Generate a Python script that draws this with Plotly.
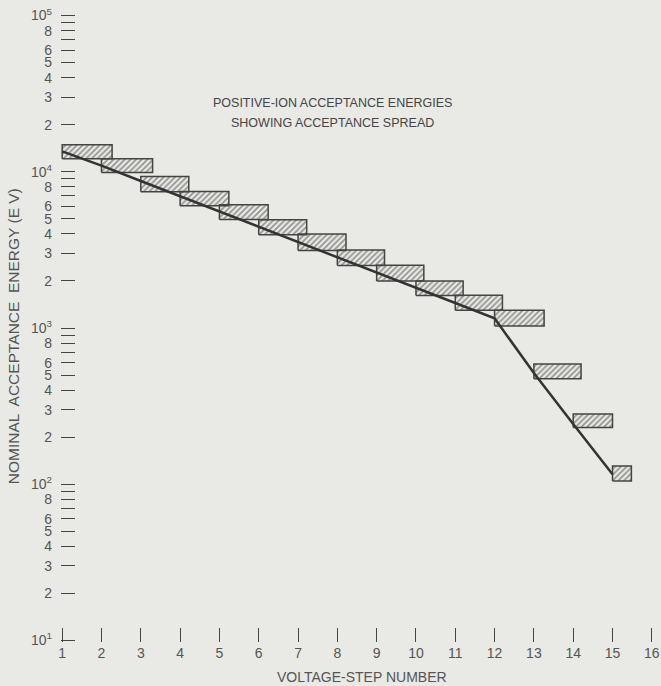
import plotly.graph_objects as go

# ---- data ----
steps = list(range(1, 16))
nominal_energy = [13500, 10940, 8730, 6980, 5570, 4450, 3550, 2840, 2265, 1805, 1445, 1153, 515, 243, 116]
spread_low = [12100, 9900, 7440, 6060, 4945, 3950, 3130, 2510, 2000, 1616, 1300, 1030, 473, 231, 105]
spread_high = [14900, 12110, 9330, 7480, 6145, 4925, 3990, 3160, 2520, 2000, 1621, 1299, 588, 281, 131]
spread_right = [2.27, 3.3, 4.22, 5.24, 6.24, 7.22, 8.22, 9.2, 10.2, 11.2, 12.2, 13.26, 14.2, 15.0, 15.48]

x_ticks = list(range(1, 17))
y_tickvals = []
y_ticktext = []
for exp in range(1, 6):
    base = 10 ** exp
    y_tickvals.append(base)
    y_ticktext.append(f"10<sup>{exp}</sup>")
    if exp < 5:
        for m, lab in zip(range(2, 10), ["2", "3", "4", "5", "6", "", "8", ""]):
            y_tickvals.append(m * base)
            y_ticktext.append(lab)

title_lines = ["POSITIVE-ION ACCEPTANCE ENERGIES", "SHOWING ACCEPTANCE SPREAD"]
x_title = "VOLTAGE-STEP NUMBER"
y_title = "NOMINAL  ACCEPTANCE  ENERGY (E V)"

BG = "#e9e9e5"
INK = "#454545"
FONT = "Liberation Sans"

fig = go.Figure()

for s, lo, hi, r in zip(steps, spread_low, spread_high, spread_right):
    fig.add_trace(go.Scatter(
        x=[s, r, r, s, s], y=[lo, lo, hi, hi, lo],
        mode="lines", fill="toself",
        fillcolor="rgba(0,0,0,0)",
        fillpattern=dict(shape="/", fgcolor="#3a3a3a", bgcolor="rgba(0,0,0,0)", size=4, solidity=0.42),
        line=dict(color="#444444", width=1.5),
        hoverinfo="skip", showlegend=False, cliponaxis=False,
    ))

fig.add_trace(go.Scatter(
    x=steps, y=nominal_energy, mode="lines",
    line=dict(color="#333333", width=2.5),
    showlegend=False, cliponaxis=False,
))

fig.update_layout(
    width=661, height=686,
    margin=dict(l=61, r=8, t=14, b=44),
    paper_bgcolor=BG, plot_bgcolor=BG,
    font=dict(family=FONT, color=INK, size=14),
)

fig.update_xaxes(
    range=[0.97, 16.03], tickvals=x_ticks, ticktext=[str(v) for v in x_ticks],
    ticks="inside", ticklen=14, tickwidth=1.2, tickcolor=INK,
    showgrid=False, zeroline=False, showline=False, automargin=False,
    tickfont=dict(size=14, color="#555555"), ticklabelstandoff=1,
)
fig.update_yaxes(
    type="log", range=[0.99, 5.01], tickvals=y_tickvals, ticktext=y_ticktext,
    ticks="inside", ticklen=14, tickwidth=1.2, tickcolor=INK,
    showgrid=False, zeroline=False, showline=False, automargin=False,
    tickfont=dict(size=14, color="#555555"), ticklabelstandoff=8,
)

fig.add_annotation(text=title_lines[0], xref="paper", yref="paper", x=0.458, y=0.858,
                   showarrow=False, font=dict(size=12.5, color=INK), xanchor="center", yanchor="middle")
fig.add_annotation(text=title_lines[1], xref="paper", yref="paper", x=0.458, y=0.826,
                   showarrow=False, font=dict(size=12.5, color=INK), xanchor="center", yanchor="middle")
fig.add_annotation(text=x_title, xref="paper", yref="paper", x=0.509, y=-0.0557,
                   showarrow=False, font=dict(size=14, color="#555555"), xanchor="center", yanchor="middle")
fig.add_annotation(text=y_title, xref="paper", yref="paper", x=-0.081, y=0.487, textangle=-90,
                   showarrow=False, font=dict(size=15.5, color="#555555"), xanchor="center", yanchor="middle")

fig.write_html("out.html", config={"displayModeBar": False},
               post_script="document.body.style.margin='0';document.body.style.overflow='hidden';")
